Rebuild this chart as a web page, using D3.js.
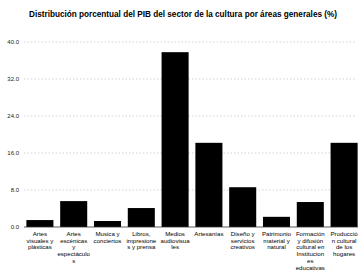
<!DOCTYPE html>
<html>
<head>
<meta charset="utf-8">
<script src="https://cdn.jsdelivr.net/npm/d3@7"></script>
<style>
  body { margin: 0; background: #fff; }
  svg { display: block; font-family: "Liberation Sans", Arial, sans-serif; }
</style>
</head>
<body>
<svg id="chart" width="359" height="271"></svg>
<script>
const title = "Distribución porcentual del PIB del sector de la cultura por áreas generales (%)";

// categories, wrapped as in the original
const categories = [
    ["Artes", "visuales y", "plásticas"],
    ["Artes", "escénicas", "y", "espectáculo", "s"],
    ["Musica y", "conciertos"],
    ["Libros,", "impresione", "s y prensa"],
    ["Medios", "audiovisua", "les"],
    ["Artesanías"],
    ["Diseño y", "servicios", "creativos"],
    ["Patrimonio", "material y", "natural"],
    ["Formación", "y difusión", "cultural en", "Institucion", "es", "educativas"],
    ["Producció", "n cultural", "de los", "hogares"]
];
const values = [1.5, 5.6, 1.3, 4.1, 37.8, 18.2, 8.6, 2.2, 5.4, 18.2];
const yTicks = [0, 8, 16, 24, 32, 40];

const svg = d3.select("#chart");

const x = d3.scaleBand()
    .domain(d3.range(values.length))
    .range([23, 361])
    .paddingInner(0.2)
    .paddingOuter(0.1);

const y = d3.scaleLinear()
    .domain([0, 40])
    .range([227, 42]);

svg.append("text")
    .attr("x", 183)
    .attr("y", 17)
    .attr("text-anchor", "middle")
    .style("font-size", "8.2px")
    .style("font-weight", "bold")
    .text(title);

// gridlines
svg.append("g").selectAll("line")
    .data(yTicks.filter(d => d > 0))
    .join("line")
    .attr("x1", 24)
    .attr("x2", 356)
    .attr("y1", d => y(d))
    .attr("y2", d => y(d))
    .attr("stroke", "#b5b5b5")
    .attr("stroke-width", 0.6)
    .attr("stroke-dasharray", "1.5,2");

// tick labels
svg.append("g").selectAll("text")
    .data(yTicks)
    .join("text")
    .attr("x", 19)
    .attr("y", d => y(d) + 2)
    .attr("text-anchor", "end")
    .style("font-size", "6px")
    .attr("fill", "#222")
    .text(d => d.toFixed(1));

// bars
svg.append("g").selectAll("rect")
    .data(values)
    .join("rect")
    .attr("x", (d, i) => x(i))
    .attr("y", d => y(d))
    .attr("width", x.bandwidth())
    .attr("height", d => y(0) - y(d))
    .attr("fill", "#000");

// baseline
svg.append("line")
    .attr("x1", 24)
    .attr("x2", 358)
    .attr("y1", y(0))
    .attr("y2", y(0))
    .attr("stroke", "#333")
    .attr("stroke-width", 0.8);

// category labels
const lab = svg.append("g").selectAll("text")
    .data(categories)
    .join("text")
    .attr("text-anchor", "middle")
    .style("font-size", "6.1px")
    .attr("fill", "#000");

lab.selectAll("tspan")
    .data((d, i) => d.map(t => ({t, i})))
    .join("tspan")
    .attr("x", d => x(d.i) + x.bandwidth() / 2)
    .attr("y", (d, j) => 236 + j * 6.7)
    .text(d => d.t);
</script>
</body>
</html>
